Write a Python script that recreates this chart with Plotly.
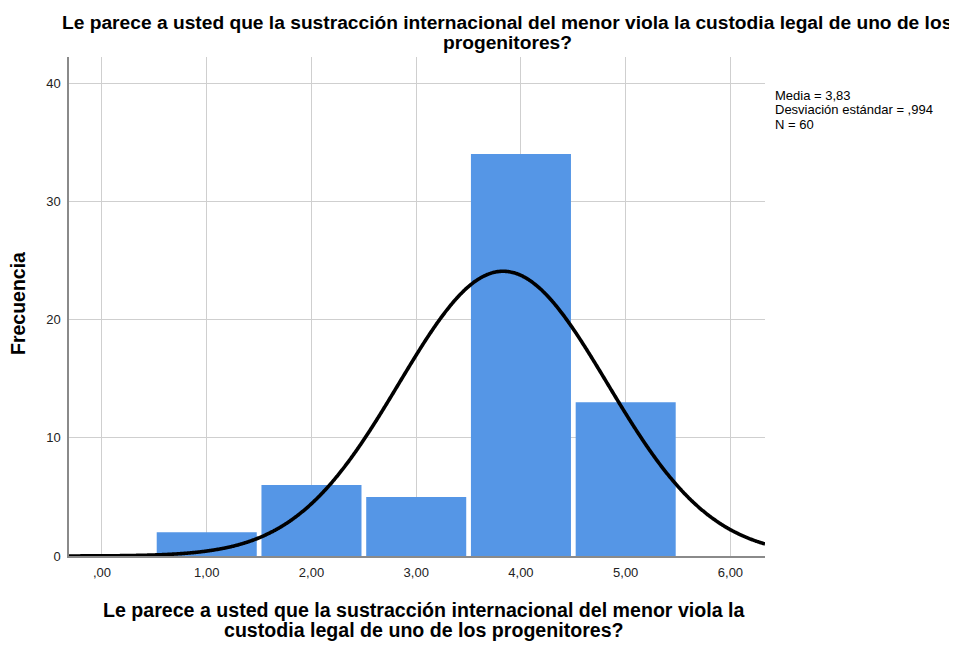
import numpy as np
import plotly.graph_objects as go

# Data
categories = [1, 2, 3, 4, 5]
frequencies = [2, 6, 5, 34, 13]
tick_vals = [0, 1, 2, 3, 4, 5, 6]
tick_text = [",00", "1,00", "2,00", "3,00", "4,00", "5,00", "6,00"]
y_ticks = [0, 10, 20, 30, 40]
MEAN = 3.83
SD = 0.994
N = 60
BIN_WIDTH = 1.0

title_lines = ["Le parece a usted que la sustracción internacional del menor viola la custodia legal de uno de los",
               "progenitores?"]
xlabel_lines = ["Le parece a usted que la sustracción internacional del menor viola la",
                "custodia legal de uno de los progenitores?"]
ylabel_text = "Frecuencia"
stats_lines = ["Media = 3,83", "Desviación estándar = ,994", "N = 60"]

x_min, x_max = -0.315, 6.33
xs = np.linspace(x_min, x_max, 600)
ys = N * BIN_WIDTH / (SD * np.sqrt(2 * np.pi)) * np.exp(-0.5 * ((xs - MEAN) / SD) ** 2)

FONT = "Liberation Sans, Arial, sans-serif"

fig = go.Figure()
fig.add_trace(go.Bar(
    x=categories, y=frequencies,
    marker=dict(color="#5596E6", line=dict(width=0)),
    hoverinfo="x+y",
))
fig.add_trace(go.Scatter(
    x=xs, y=ys, mode="lines",
    line=dict(color="black", width=3.6, shape="spline"),
    hoverinfo="skip",
))

fig.update_layout(
    width=957, height=645,
    paper_bgcolor="white", plot_bgcolor="white",
    margin=dict(l=61, r=200, t=49, b=97),
    showlegend=False,
    bargap=0.045,
    font=dict(family=FONT, size=13, color="#222222"),
)
fig.update_xaxes(
    range=[x_min, x_max],
    tickvals=tick_vals, ticktext=tick_text,
    showgrid=True, gridcolor="#cfcfcf", gridwidth=1,
    showline=True, linecolor="#8a8a8a", linewidth=1.5,
    zeroline=False, ticks="", ticklen=0, ticklabelstandoff=4,
    tickfont=dict(family=FONT, size=13, color="#222222"),
)
fig.update_yaxes(
    range=[0, 42.2],
    tickvals=y_ticks,
    showgrid=True, gridcolor="#cfcfcf", gridwidth=1,
    showline=True, linecolor="#8a8a8a", linewidth=1.5,
    zeroline=False, ticks="", ticklabelstandoff=4,
    tickfont=dict(family=FONT, size=13, color="#222222"),
)

# Title (two lines)
for line, shift in zip(title_lines, [35, 15]):
    fig.add_annotation(
        text="<b>" + line + "</b>", xref="paper", yref="paper",
        x=0.630, y=1.0, yshift=shift, xanchor="center", yanchor="middle",
        showarrow=False, font=dict(family=FONT, size=19.2, color="black"),
    )
# X axis title (two lines)
for line, shift in zip(xlabel_lines, [-54, -74]):
    fig.add_annotation(
        text="<b>" + line + "</b>", xref="paper", yref="paper",
        x=0.510, y=0, yshift=shift, xanchor="center", yanchor="middle",
        showarrow=False, font=dict(family=FONT, size=19.6, color="black"),
    )
# Y axis title
fig.add_annotation(
    text="<b>" + ylabel_text + "</b>", xref="paper", yref="paper",
    x=0, xshift=-51, y=0.505, xanchor="center", yanchor="middle",
    textangle=-90, showarrow=False,
    font=dict(family=FONT, size=19.5, color="black"),
)
# Stats text
for line, shift in zip(stats_lines, [-38, -52.5, -67]):
    fig.add_annotation(
        text=line, xref="paper", yref="paper",
        x=1, xshift=8, y=1, yshift=shift, xanchor="left", yanchor="middle",
        showarrow=False, font=dict(family=FONT, size=13, color="black"),
    )

fig.write_html("out.html")
